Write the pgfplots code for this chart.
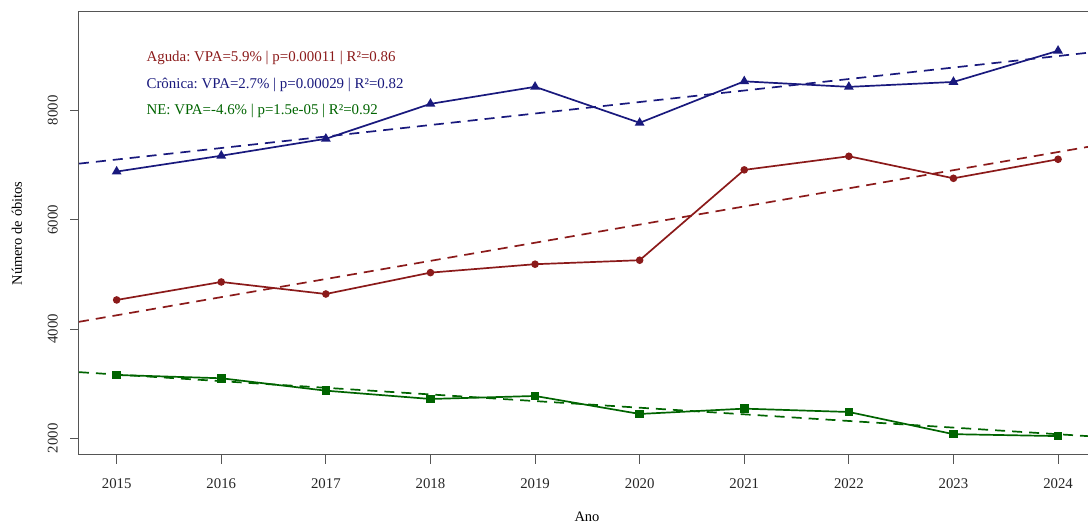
\documentclass[border=0pt]{standalone}
\usepackage{fontspec}
\setmainfont{Liberation Serif}
\usepackage{pgfplots}
\pgfplotsset{compat=1.18}
\definecolor{cAg}{RGB}{139,26,26}
\definecolor{cCr}{RGB}{25,25,125}
\definecolor{cNE}{RGB}{0,100,0}
\definecolor{axc}{RGB}{85,85,85}
\frenchspacing
\begin{document}
\fontsize{14.5}{17}\selectfont
\begin{tikzpicture}
\begin{axis}[
  scale only axis, width=1009pt, height=443pt,
  xmin=2014.64, xmax=2024.286, ymin=1694, ymax=9800,
  axis line style={draw=none},
  tick align=outside, major tick length=9pt,
  xtick={2015,2016,2017,2018,2019,2020,2021,2022,2023,2024},
  ytick={2000,4000,6000,8000},
  xtick pos=bottom, ytick pos=left,
  every tick/.style={axc, line width=0.9pt},
  /pgf/number format/1000 sep={},
  /pgf/number format/assume math mode=true,
  ticklabel style={font=\fontsize{14.8}{17}\selectfont, inner sep=0pt, text=black!85},
  xticklabel style={anchor=north},
  xticklabel shift=14pt,
  yticklabel style={rotate=90, anchor=base},
  yticklabel shift=12.5pt,
  xlabel={Ano},
  xlabel style={at={(axis description cs:0.5035,0)}, anchor=base, yshift=-67pt, inner sep=0pt, font=\fontsize{14.5}{17}\selectfont},
  ylabel={Número de óbitos},
  ylabel style={at={(axis description cs:-0.0565,0.5)}, anchor=base, inner sep=0pt, font=\fontsize{14.5}{17}\selectfont},
]
% Aguda
\addplot[cAg, line width=1.7pt, mark=*, mark size=2.9pt] coordinates {
 (2015,4531) (2016,4860) (2017,4640) (2018,5031) (2019,5185)
 (2020,5258) (2021,6911) (2022,7160) (2023,6757) (2024,7105)};
% Cronica
\addplot[cCr, line width=1.7pt, mark=triangle*, mark size=4pt] coordinates {
 (2015,6880) (2016,7170) (2017,7480) (2018,8119) (2019,8431)
 (2020,7772) (2021,8531) (2022,8430) (2023,8520) (2024,9090)};
% NE
\addplot[cNE, line width=1.7pt, mark=square*, mark size=3.4pt] coordinates {
 (2015,3158) (2016,3098) (2017,2871) (2018,2719) (2019,2774)
 (2020,2445) (2021,2542) (2022,2481) (2023,2075) (2024,2040)};
% trend lines
\addplot[cAg, line width=1.7pt, dash pattern=on 10pt off 7pt] coordinates {(2014.64,4131) (2024.36,7357)};
\addplot[cCr, line width=1.7pt, dash pattern=on 10pt off 7pt] coordinates {(2014.64,7025) (2024.36,9070)};
\addplot[cNE, line width=1.7pt, dash pattern=on 10pt off 7pt] coordinates {(2014.64,3210) (2024.36,2030)};
\node[anchor=base west, inner sep=0pt, text=cAg, font=\fontsize{14.9}{17}\selectfont] at (axis cs:2015.284,8894) {Aguda: VPA=5.9\% | p=0.00011 | R²=0.86};
\node[anchor=base west, inner sep=0pt, text=cCr, font=\fontsize{14.9}{17}\selectfont] at (axis cs:2015.284,8400) {Crônica: VPA=2.7\% | p=0.00029 | R²=0.82};
\node[anchor=base west, inner sep=0pt, text=cNE, font=\fontsize{14.9}{17}\selectfont] at (axis cs:2015.284,7918) {NE: VPA=-4.6\% | p=1.5e-05 | R²=0.92};
\coordinate (BL) at (rel axis cs:0,0);
\coordinate (TR) at (rel axis cs:1,1);
\end{axis}
\draw[axc, line width=1pt] (BL -| TR) -- (BL) -- (BL |- TR) -- (TR);
\pgfresetboundingbox
\path (BL) ++(-79pt,-69pt) rectangle ++(1088pt,524pt);
\end{tikzpicture}
\end{document}
